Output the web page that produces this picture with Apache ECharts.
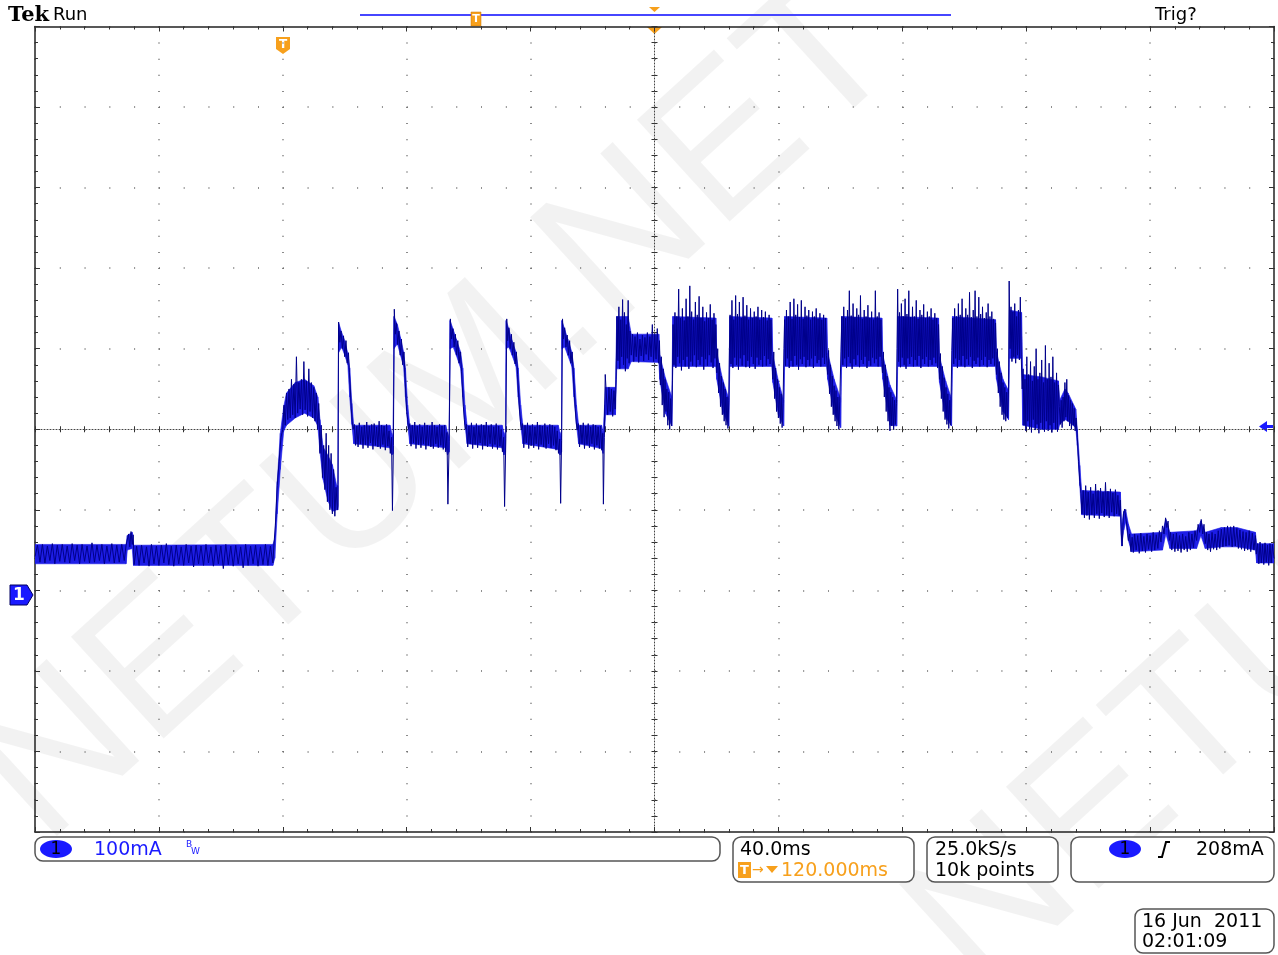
<!DOCTYPE html>
<html>
<head>
<meta charset="utf-8">
<title>Tek Run</title>
<script src="https://cdn.jsdelivr.net/npm/echarts@6/dist/echarts.min.js"></script>
<style>
html, body { margin: 0; padding: 0; background: #fff; }
#chart { width: 1278px; height: 955px; }
</style>
</head>
<body>
<div id="chart"></div>
<script>
// scope settings: 40 ms/div, 100 mA/div, time relative to trigger
var timeMin = -80, timeMax = 320, timeDiv = 40;
var currMin = -300, currMax = 700, currDiv = 100;

// readout texts
var chLabel = '1';
var voltsText = '100mA';
var timebaseText = '40.0ms';
var delayText = '120.000ms';
var rateText = '25.0kS/s';
var pointsText = '10k points';
var trigText = '208mA';
var dateText = '16 Jun  2011';
var clockText = '02:01:09';
var watermarkText = 'NETUM.NET';

// envelope of the noisy trace: [time ms, lower mA, upper mA]
var envelope = [
  [-80,33,57],[-50.6,33,57],[-50.2,50,68],[-48.6,52,72],[-48.2,31,56],[-3.2,31,57],
  [-2.6,40,64],[-1.8,95,135],[-0.8,150,195],[0.3,198,228],[1.2,205,245],[4,214,258],[7,220,262],[10,214,254],[11.3,204,240],[12,172,212],[13,138,178],[14.5,112,168],[16,98,156],[17.4,100,130],[17.8,100,130],
  [18.0,295,333],[19,302,320],[20,292,310],[21,280,294],[21.6,240,276],[22.3,206,232],[22.9,182,205],[34.6,177,205],[35.2,168,195],[35.6,170,190],
  [35.9,300,340],[37,306,330],[38,292,314],[39,278,296],[39.6,240,276],[40.3,206,230],[41,182,205],[52.6,177,205],[53.2,168,196],[53.7,172,190],
  [54.0,300,335],[55,302,324],[56,292,312],[57.4,276,296],[58.1,240,276],[58.8,206,230],[59.5,182,205],[70.8,177,205],[71.4,168,196],[71.9,172,190],
  [72.1,300,335],[73,302,324],[74,292,310],[75.3,278,296],[76,240,276],[76.8,206,230],[77.5,182,205],[88.9,175,205],[89.5,168,196],[90,172,188],
  [90.1,300,335],[91,302,324],[92,292,312],[93.3,278,296],[94,240,276],[94.8,206,230],[95.5,182,205],[102.9,176,205],[103.4,170,196],[103.9,200,230],
  [104.2,218,252],[107.4,218,252],[107.8,275,340],[111.5,275,340],[112.5,284,318],[121.4,283,318],
  [121.7,262,292],[123.5,220,264],[125.6,204,240],
  [125.9,278,340],[139.8,278,338],
  [140.1,262,295],[142,222,262],[144,204,238],
  [144.3,278,340],[157.9,278,338],
  [158.2,258,292],[160,218,260],[161.7,204,236],
  [162,278,340],[175.6,278,338],
  [175.9,262,295],[178,220,262],[180.1,202,238],
  [180.4,278,340],[193.4,278,338],
  [193.7,262,292],[196,205,255],[198.2,204,236],
  [198.5,278,340],[211.7,278,338],
  [212,258,290],[214,215,260],[215.9,204,238],
  [216.2,278,340],[230.1,278,336],
  [230.4,262,296],[232.5,222,262],[234.3,212,248],
  [234.6,288,348],[238.5,288,345],
  [238.9,205,268],[245,200,265],[250.4,200,260],
  [250.8,206,236],[252.5,212,250],[253.5,210,245],[256,202,225],
  [256.5,180,200],[257.3,130,155],[257.9,94,124],[270.4,92,122],
  [270.8,55,80],[271.5,75,98],[272.1,85,100],[273,62,82],[274,48,70],
  [284,50,72],[285.1,70,88],[286.4,52,72],[295,52,74],[296.4,68,86],[297.8,52,72],
  [303,54,78],[308,54,78],[314,50,72],[314.4,34,58],[320,34,58]
];

// the trace itself, [time ms, current mA]
var idleTrace = [
  [-80,42],[-79.2,56],[-78.4,35],[-77.6,57],[-76.8,34],[-76,55],[-75.2,37],[-74.4,58],[-73.6,33],[-72.8,56],
  [-72,36],[-71.2,57],[-70.4,35],[-69.6,55],[-68.8,34],[-68,58],[-67.2,37],[-66.4,56],[-65.6,33],[-64.8,57],
  [-64,36],[-63.2,55],[-62.4,34],[-61.6,59],[-60.8,35],[-60,56],[-59.2,37],[-58.4,57],[-57.6,33],[-56.8,55],
  [-56,36],[-55.2,58],[-54.4,34],[-53.6,56],[-52.8,35],[-52,57],[-51.2,37],[-50.6,56],[-50.2,55],[-49.8,70],
  [-49.4,54],[-49,73],[-48.6,57],[-48.3,69],[-48,32],[-47.2,55],[-46.4,31],[-45.6,56],[-44.8,34],[-44,54],
  [-43.2,30],[-42.4,57],[-41.6,33],[-40.8,55],[-40,31],[-39.2,56],[-38.4,34],[-37.6,58],[-36.8,32],[-36,55],
  [-35.2,30],[-34.4,56],[-33.6,33],[-32.8,54],[-32,31],[-31.2,57],[-30.4,34],[-29.6,55],[-28.8,29],[-28,56],
  [-27.2,33],[-26.4,55],[-25.6,31],[-24.8,57],[-24,34],[-23.2,54],[-22.4,30],[-21.6,56],[-20.8,33],[-20,55],
  [-19.2,27],[-18.4,57],[-17.6,32],[-16.8,55],[-16,30],[-15.2,56],[-14.4,33],[-13.6,54],[-12.8,28],[-12,57],
  [-11.2,31],[-10.4,55],[-9.6,33],[-8.8,56],[-8,30],[-7.2,54],[-6.4,32],[-5.6,57],[-4.8,31],[-4,55],
  [-3.2,34],[-2.8,60]
];
var pulseTrace = [
  [-2.4,80],[-1.8,130],[-1.2,160],[-0.6,190],[0,200],[0.4,230],[0.8,205],[1.2,245],[1.6,212],[2,250],
  [2.4,214],[2.8,262],[3.2,218],[3.6,256],[4,214],[4.4,290],[4.8,220],[5.2,258],[5.6,225],[6,262],
  [6.4,218],[6.8,284],[7.2,224],[7.6,260],[8,216],[8.4,275],[8.8,222],[9.2,258],[9.6,214],[10,252],
  [10.4,210],[10.8,245],[11.2,200],[11.6,232],[12,170],[12.4,205],[12.8,140],[13.2,180],[13.6,125],[14,195],
  [14.4,110],[14.8,180],[15.2,100],[15.6,170],[16,95],[16.4,150],[16.8,92],[17.2,128],[17.6,100],
  [17.8,105],[18,333],[18.4,308],[18.8,322],[19.2,300],[19.6,316],[20,290],[20.4,310],[20.8,282],[21.2,295],
  [21.5,270],[21.8,250],[22.1,226],[22.4,210],[22.7,200],[23.1,206],[23.5,180],[23.9,204],[24.3,178],[24.7,208],
  [25.1,182],[25.5,203],[25.9,176],[26.3,205],[26.7,181],[27.1,209],[27.5,177],[27.9,204],[28.3,183],[28.7,206],
  [29.1,175],[29.5,207],[29.9,180],[30.3,203],[30.7,178],[31.1,210],[31.5,176],[31.9,205],[32.3,181],[32.7,204],
  [33.1,174],[33.5,206],[33.9,179],[34.3,198],[34.7,170],[35.1,190],[35.4,99],[35.7,180],[36,349],
  [36.3,318],[36.7,332],[37.1,305],[37.5,322],[37.9,292],[38.3,312],[38.7,280],[39.1,296],[39.4,270],[39.7,245],
  [40,222],[40.3,212],[40.6,200],[41,207],[41.4,179],[41.8,205],[42.2,183],[42.6,209],[43,176],[43.4,204],
  [43.8,181],[44.2,206],[44.6,177],[45,203],[45.4,182],[45.8,208],[46.2,175],[46.6,205],[47,180],[47.4,204],
  [47.8,178],[48.2,209],[48.6,176],[49,205],[49.4,182],[49.8,203],[50.2,177],[50.6,206],[51,180],[51.4,204],
  [51.8,175],[52.2,205],[52.6,172],[53,196],[53.3,107],[53.7,185],[54.1,337],
  [54.5,312],[54.9,325],[55.3,302],[55.7,318],[56.1,292],[56.5,310],[56.9,282],[57.3,296],[57.7,272],[58,250],
  [58.3,228],[58.6,212],[58.9,200],[59.3,206],[59.7,178],[60.1,204],[60.5,182],[60.9,208],[61.3,176],[61.7,203],
  [62.1,181],[62.5,207],[62.9,177],[63.3,204],[63.7,183],[64.1,206],[64.5,175],[64.9,205],[65.3,180],[65.7,209],
  [66.1,178],[66.5,204],[66.9,182],[67.3,206],[67.7,176],[68.1,203],[68.5,181],[68.9,207],[69.3,175],[69.7,204],
  [70.1,179],[70.5,200],[70.9,172],[71.3,190],[71.6,104],[72,188],[72.3,337],
  [72.6,310],[73,326],[73.4,300],[73.8,318],[74.2,292],[74.6,308],[75,281],[75.4,296],[75.8,268],[76.1,245],
  [76.4,225],[76.7,210],[77,199],[77.4,207],[77.8,177],[78.2,205],[78.6,183],[79,208],[79.4,176],[79.8,204],
  [80.2,180],[80.6,206],[81,177],[81.4,203],[81.8,182],[82.2,209],[82.6,175],[83,205],[83.4,181],[83.8,204],
  [84.2,178],[84.6,207],[85,176],[85.4,203],[85.8,182],[86.2,206],[86.6,177],[87,205],[87.4,180],[87.8,203],
  [88.2,174],[88.6,198],[89,170],[89.4,188],[89.7,108],[90,186],[90.3,337],
  [90.6,312],[91,326],[91.4,302],[91.8,317],[92.2,292],[92.6,310],[93,282],[93.4,296],[93.8,268],[94.1,246],
  [94.4,226],[94.7,210],[95,199],[95.4,207],[95.8,178],[96.2,205],[96.6,182],[97,208],[97.4,176],[97.8,204],
  [98.2,181],[98.6,207],[99,177],[99.4,203],[99.8,182],[100.2,206],[100.6,175],[101,205],[101.4,180],[101.8,203],
  [102.2,176],[102.6,204],[103,174],[103.3,195],[103.5,107],[103.8,190],[104.1,268],
  [104.5,240],[104.9,218],[105.3,252],[105.7,222],[106.1,250],[106.5,216],[106.9,248],[107.3,225],[107.6,262]
];
var burstTrace = [
  [107.9,340],[108.2,285],[108.5,352],[108.8,275],[109.1,336],[109.4,290],[109.7,361],[110,280],[110.3,345],[110.6,272],
  [110.9,330],[111.2,288],[111.5,360],[111.8,282],[112.1,322],[112.5,292],[112.9,318],[113.3,284],[113.7,315],[114.1,290],
  [114.5,320],[114.9,283],[115.3,312],[115.7,291],[116.1,317],[116.5,285],[116.9,314],[117.3,293],[117.7,320],[118.1,286],
  [118.5,315],[118.9,290],[119.3,330],[119.7,284],[120.1,318],[120.5,287],[120.9,325],[121.3,282],[121.6,310],
  [121.9,255],[122.2,290],[122.5,230],[122.8,275],[123.1,215],[123.4,262],[123.7,222],[124,250],[124.3,205],[124.6,246],
  [124.9,200],[125.2,238],[125.5,204],[125.8,260],
  [126,330],[126.3,280],[126.6,345],[126.9,276],[127.2,340],[127.5,290],[127.8,374],[128.1,282],[128.4,338],[128.7,273],
  [129,350],[129.3,286],[129.6,335],[129.9,278],[130.2,362],[130.5,290],[130.8,340],[131.1,275],[131.4,378],[131.7,284],
  [132,346],[132.3,279],[132.6,336],[132.9,292],[133.2,358],[133.5,277],[133.8,342],[134.1,286],[134.4,365],[134.7,280],
  [135,338],[135.3,290],[135.6,352],[135.9,274],[136.2,334],[136.5,287],[136.8,345],[137.1,279],[137.4,338],[137.7,292],
  [138,355],[138.3,283],[138.6,336],[138.9,276],[139.2,344],[139.5,288],[139.8,330],
  [140.1,270],[140.4,300],[140.7,245],[141,282],[141.3,228],[141.6,266],[141.9,218],[142.2,258],[142.5,210],[142.8,250],
  [143.1,205],[143.4,240],[143.7,201],[144,236],[144.2,300],
  [144.4,342],[144.7,281],[145,360],[145.3,276],[145.6,336],[145.9,289],[146.2,366],[146.5,280],[146.8,343],[147.1,274],
  [147.4,358],[147.7,288],[148,338],[148.3,279],[148.6,364],[148.9,292],[149.2,341],[149.5,277],[149.8,354],[150.1,285],
  [150.4,336],[150.7,276],[151,350],[151.3,290],[151.6,338],[151.9,281],[152.2,346],[152.5,275],[152.8,340],[153.1,289],
  [153.4,352],[153.7,280],[154,336],[154.3,286],[154.6,348],[154.9,278],[155.2,339],[155.5,291],[155.8,346],[156.1,279],
  [156.4,335],[156.7,287],[157,342],[157.3,281],[157.6,336],[157.9,290],
  [158.2,262],[158.5,296],[158.8,238],[159.1,276],[159.4,222],[159.7,262],[160,214],[160.3,252],[160.6,207],[160.9,244],
  [161.2,202],[161.5,232],[161.8,300],
  [162,336],[162.3,279],[162.6,348],[162.9,288],[163.2,340],[163.5,276],[163.8,358],[164.1,285],[164.4,337],[164.7,278],
  [165,362],[165.3,291],[165.6,342],[165.9,280],[166.2,355],[166.5,274],[166.8,339],[167.1,287],[167.4,360],[167.7,281],
  [168,337],[168.3,290],[168.6,352],[168.9,277],[169.2,341],[169.5,286],[169.8,348],[170.1,279],[170.4,336],[170.7,288],
  [171,346],[171.3,276],[171.6,340],[171.9,291],[172.2,350],[172.5,282],[172.8,337],[173.1,286],[173.4,344],[173.7,278],
  [174,336],[174.3,289],[174.6,342],[174.9,281],[175.2,338],[175.5,292],
  [175.9,268],[176.2,298],[176.5,244],[176.8,280],[177.1,228],[177.4,266],[177.7,218],[178,254],[178.3,210],[178.6,248],
  [178.9,204],[179.2,240],[179.5,200],[179.8,234],[180.2,296],
  [180.5,340],[180.8,280],[181.1,352],[181.4,288],[181.7,338],[182,276],[182.3,348],[182.6,290],[182.9,372],[183.2,282],
  [183.5,341],[183.8,275],[184.1,356],[184.4,287],[184.7,339],[185,280],[185.3,350],[185.6,292],[185.9,342],[186.2,277],
  [186.5,366],[186.8,286],[187.1,337],[187.4,281],[187.7,348],[188,290],[188.3,340],[188.6,276],[188.9,354],[189.2,285],
  [189.5,338],[189.8,279],[190.1,346],[190.4,289],[190.7,336],[191,282],[191.3,372],[191.6,287],[191.9,340],[192.2,278],
  [192.5,345],[192.8,290],[193.1,336],[193.4,284],
  [193.6,270],[193.9,296],[194.2,240],[194.5,280],[194.8,222],[195.1,266],[195.4,210],[195.7,252],[196,198],[196.3,246],
  [196.6,204],[196.9,240],[197.2,200],[197.5,236],[197.8,206],[198.1,232],[198.3,300],
  [198.5,374],[198.8,284],[199.1,345],[199.4,277],[199.7,356],[200,289],[200.3,340],[200.6,280],[200.9,362],[201.2,275],
  [201.5,343],[201.8,288],[202.1,372],[202.4,281],[202.7,339],[203,290],[203.3,352],[203.6,278],[203.9,340],[204.2,286],
  [204.5,360],[204.8,279],[205.1,337],[205.4,291],[205.7,348],[206,276],[206.3,342],[206.6,287],[206.9,355],[207.2,281],
  [207.5,338],[207.8,290],[208.1,346],[208.4,278],[208.7,340],[209,286],[209.3,350],[209.6,280],[209.9,336],[210.2,289],
  [210.5,344],[210.8,282],[211.1,338],[211.4,276],[211.7,330],
  [212,262],[212.3,294],[212.6,238],[212.9,278],[213.2,222],[213.5,264],[213.8,212],[214.1,252],[214.4,206],[214.7,244],
  [215,201],[215.3,236],[215.6,205],[216,298],
  [216.3,338],[216.6,281],[216.9,350],[217.2,288],[217.5,340],[217.8,276],[218.1,356],[218.4,286],[218.7,342],[219,279],
  [219.3,362],[219.6,291],[219.9,338],[220.2,277],[220.5,350],[220.8,287],[221.1,342],[221.4,280],[221.7,370],[222,290],
  [222.3,339],[222.6,276],[222.9,348],[223.2,285],[223.5,372],[223.8,281],[224.1,340],[224.4,289],[224.7,364],[225,278],
  [225.3,343],[225.6,286],[225.9,352],[226.2,280],[226.5,338],[226.8,290],[227.1,345],[227.4,277],[227.7,356],[228,286],
  [228.3,340],[228.6,281],[228.9,346],[229.2,288],[229.5,337],[229.8,279],[230.1,332],
  [230.4,268],[230.7,300],[231,245],[231.3,284],[231.6,228],[231.9,270],[232.2,218],[232.5,258],[232.8,212],[233.1,252],
  [233.4,210],[233.7,246],[234,214],[234.3,250],
  [234.5,384],[234.8,300],[235.1,352],[235.4,284],[235.7,346],[236,290],[236.3,356],[236.6,282],[236.9,340],[237.2,292],
  [237.5,348],[237.8,286],[238.1,364],[238.4,290],[238.7,250]
];
var tailTrace = [
  [239,275],[239.3,205],[239.6,262],[239.9,198],[240.2,290],[240.5,210],[240.8,268],[241.1,200],[241.4,284],[241.7,196],
  [242,260],[242.3,212],[242.6,278],[242.9,199],[243.2,300],[243.5,206],[243.8,262],[244.1,195],[244.4,270],[244.7,208],
  [245,286],[245.3,200],[245.6,258],[245.9,197],[246.2,304],[246.5,210],[246.8,262],[247.1,198],[247.4,282],[247.7,205],
  [248,265],[248.3,196],[248.6,290],[248.9,208],[249.2,258],[249.5,200],[249.8,270],[250.1,197],[250.4,255],
  [250.7,228],[251,206],[251.3,236],[251.6,202],[251.9,240],[252.2,210],[252.5,258],[252.8,215],[253.1,262],[253.4,210],
  [253.7,242],[254,204],[254.3,236],[254.6,200],[254.9,232],[255.2,205],[255.5,226],[255.8,198],[256.1,214],
  [256.5,190],[256.9,160],[257.3,135],[257.7,120],
  [258,95],[258.4,124],[258.8,90],[259.2,130],[259.6,93],[260,122],[260.4,88],[260.8,128],[261.2,94],[261.6,120],
  [262,90],[262.4,132],[262.8,95],[263.2,124],[263.6,89],[264,127],[264.4,96],[264.8,122],[265.2,91],[265.6,134],
  [266,94],[266.4,123],[266.8,90],[267.2,126],[267.6,97],[268,121],[268.4,92],[268.8,125],[269.2,95],[269.6,118],
  [270,93],[270.4,112],
  [270.7,70],[271,55],[271.4,95],[271.8,101],[272.2,88],[272.6,78],[273,62],[273.4,70],[273.8,48],[274.2,66],
  [274.6,47],[275,70],[275.5,50],[276,68],[276.5,46],[277,71],[277.5,49],[278,67],[278.5,47],[279,70],
  [279.5,51],[280,68],[280.5,48],[281,72],[281.5,50],[282,69],[282.5,52],[283,74],[283.5,60],[284,80],
  [284.5,70],[285,90],[285.4,78],[285.8,86],[286.2,62],[286.6,72],[287,50],[287.5,70],[288,48],[288.5,71],
  [289,49],[289.5,68],[290,47],[290.5,70],[291,50],[291.5,67],[292,48],[292.5,72],[293,50],[293.5,70],
  [294,53],[294.5,74],[295,62],[295.5,82],[296,72],[296.5,88],[297,70],[297.4,82],[297.8,58],[298.2,72],
  [298.6,50],[299,70],[299.5,48],[300,72],[300.5,51],[301,70],[301.5,50],[302,74],[302.5,52],[303,76],
  [303.5,54],[304,78],[304.5,55],[305,80],[305.5,56],[306,79],[306.5,54],[307,80],[307.5,55],[308,77],
  [308.5,52],[309,75],[309.5,51],[310,73],[310.5,49],[311,72],[311.5,50],[312,74],[312.5,48],[313,71],
  [313.5,50],[314,68],[314.3,45],[314.7,58],[315.1,33],[315.5,60],[315.9,34],[316.3,57],[316.7,32],[317.1,59],
  [317.5,35],[317.9,56],[318.3,31],[318.7,58],[319.1,34],[319.5,57],[320,40]
];

var traceData = idleTrace.concat(pulseTrace, burstTrace, tailTrace);

var traceBlue = '#1d1de6';
var traceNavy = '#00008a';
var orange = '#f7a01c';
var chBlue = '#1a1aff';
var readFont = '"DejaVu Sans", sans-serif';
var markFont = '200px "Liberation Sans"';
var markFill = 'rgba(0,0,0,0.05)';

function timeAxis(position, offset, center) {
  return {
    type: 'value', min: timeMin, max: timeMax, interval: timeDiv,
    position: position, offset: offset,
    axisLine: { show: !(center && position === 'top'), onZero: false,
      lineStyle: { color: center ? '#444' : '#222', width: center ? 1 : 1.5, type: center ? [1, 2] : 'solid' } },
    axisTick: { show: true, inside: true, length: center ? 3 : 5, lineStyle: { color: '#333' } },
    minorTick: { show: true, splitNumber: 5, length: 3, lineStyle: { color: '#333' } },
    axisLabel: { show: false },
    splitLine: { show: position === 'bottom' && !center,
      lineStyle: { color: '#666', width: 1.5, type: [1, 15.1] } }
  };
}
function currAxis(position, offset, center) {
  return {
    type: 'value', min: currMin, max: currMax, interval: currDiv,
    position: position, offset: offset,
    axisLine: { show: !(center && position === 'right'), onZero: false,
      lineStyle: { color: center ? '#444' : '#222', width: center ? 1 : 1.5, type: center ? [1, 2] : 'solid' } },
    axisTick: { show: true, inside: true, length: center ? 3 : 5, lineStyle: { color: '#333' } },
    minorTick: { show: true, splitNumber: 5, length: 3, lineStyle: { color: '#333' } },
    axisLabel: { show: false },
    splitLine: { show: position === 'left' && !center,
      lineStyle: { color: '#666', width: 1.5, type: [1, 23.78] } }
  };
}

var chart = echarts.init(document.getElementById('chart'), null, { renderer: 'canvas' });

chart.setOption({
  animation: false,
  backgroundColor: '#fff',
  grid: { left: 35, top: 26.5, width: 1239, height: 805.5 },
  xAxis: [
    timeAxis('bottom', 0, false),
    timeAxis('top', 0, false),
    timeAxis('bottom', -402.75, true),
    timeAxis('top', -402.75, true)
  ],
  yAxis: [
    currAxis('left', 0, false),
    currAxis('right', 0, false),
    currAxis('left', -619.5, true),
    currAxis('right', -619.5, true)
  ],
  graphic: [
    // watermark
    { type: 'text', x: 75, y: 880, rotation: 0.74, z: -10, silent: true,
      style: { text: watermarkText, fill: markFill, font: markFont, textAlign: 'left', textVerticalAlign: 'bottom' } },
    { type: 'text', x: 1010, y: 1030, rotation: 0.74, z: -10, silent: true,
      style: { text: watermarkText, fill: markFill, font: markFont, textAlign: 'left', textVerticalAlign: 'bottom' } },
    // header
    { type: 'text', x: 8, y: 16, style: { text: 'Tek', fill: '#000', font: 'bold 21px "DejaVu Serif"', textVerticalAlign: 'middle' } },
    { type: 'text', x: 53, y: 15, style: { text: 'Run', fill: '#000', font: '18px "DejaVu Sans"', textVerticalAlign: 'middle' } },
    { type: 'text', x: 1155, y: 15, style: { text: 'Trig?', fill: '#000', font: '18px "DejaVu Sans"', textVerticalAlign: 'middle' } },
    // record view bar
    { type: 'line', shape: { x1: 360, y1: 15, x2: 951, y2: 15 }, style: { stroke: '#4646ff', lineWidth: 2 } },
    { type: 'rect', shape: { x: 471, y: 12, width: 10, height: 14 }, style: { fill: orange, stroke: '#c87400', lineWidth: 0.5 } },
    { type: 'text', x: 476, y: 19.5, style: { text: 'T', fill: '#fff', font: 'bold 11px "DejaVu Sans"', textAlign: 'center', textVerticalAlign: 'middle' } },
    { type: 'polygon', shape: { points: [[649, 7], [660, 7], [654.5, 12]] }, style: { fill: orange } },
    { type: 'polygon', shape: { points: [[647, 27], [662, 27], [654.5, 34]] }, style: { fill: orange } },
    // trigger position marker
    { type: 'polygon', shape: { points: [[276, 37], [290, 37], [290, 49], [283, 54], [276, 49]] }, style: { fill: orange } },
    { type: 'text', x: 283, y: 44.5, style: { text: 'T', fill: '#fff', font: 'bold 12px "DejaVu Sans"', textAlign: 'center', textVerticalAlign: 'middle' } },
    // channel 1 ground marker
    { type: 'polygon', shape: { points: [[10, 585], [27, 585], [33, 595], [27, 605], [10, 605]] }, style: { fill: chBlue, stroke: '#000060', lineWidth: 1 } },
    { type: 'text', x: 19, y: 595.5, style: { text: chLabel, fill: '#fff', font: 'bold 17px "DejaVu Sans"', textAlign: 'center', textVerticalAlign: 'middle' } },
    // trigger level arrow
    { type: 'polygon', shape: { points: [[1259, 426.5], [1267, 421], [1267, 425], [1273, 425], [1273, 428], [1267, 428], [1267, 432]] }, style: { fill: chBlue } },
    // readout boxes
    { type: 'rect', shape: { x: 35, y: 837, width: 685, height: 24, r: 8 }, style: { fill: '#fff', stroke: '#555', lineWidth: 1.5 } },
    { type: 'ellipse', shape: { cx: 56, cy: 849, rx: 16, ry: 9 }, style: { fill: chBlue } },
    { type: 'text', x: 56, y: 849.5, style: { text: chLabel, fill: '#000', font: '17px "DejaVu Sans"', textAlign: 'center', textVerticalAlign: 'middle' } },
    { type: 'text', x: 94, y: 850, style: { text: voltsText, fill: chBlue, font: '19px ' + readFont, textVerticalAlign: 'middle' } },
    { type: 'text', x: 186, y: 845, style: { text: 'B', fill: chBlue, font: '9px "DejaVu Sans"', textVerticalAlign: 'middle' } },
    { type: 'text', x: 191, y: 852, style: { text: 'W', fill: chBlue, font: '9px "DejaVu Sans"', textVerticalAlign: 'middle' } },

    { type: 'rect', shape: { x: 733, y: 837, width: 181, height: 45, r: 8 }, style: { fill: '#fff', stroke: '#555', lineWidth: 1.5 } },
    { type: 'text', x: 740, y: 850, style: { text: timebaseText, fill: '#000', font: '19px ' + readFont, textVerticalAlign: 'middle' } },
    { type: 'rect', shape: { x: 738, y: 862, width: 13, height: 16 }, style: { fill: orange } },
    { type: 'text', x: 744.5, y: 870.5, style: { text: 'T', fill: '#fff', font: 'bold 13px "DejaVu Sans"', textAlign: 'center', textVerticalAlign: 'middle' } },
    { type: 'text', x: 752, y: 870, style: { text: '\u2192', fill: orange, font: '14px "DejaVu Sans"', textVerticalAlign: 'middle' } },
    { type: 'polygon', shape: { points: [[766, 866], [778, 866], [772, 873]] }, style: { fill: orange } },
    { type: 'text', x: 781, y: 871, style: { text: delayText, fill: orange, font: '19px ' + readFont, textVerticalAlign: 'middle' } },

    { type: 'rect', shape: { x: 927, y: 837, width: 131, height: 45, r: 8 }, style: { fill: '#fff', stroke: '#555', lineWidth: 1.5 } },
    { type: 'text', x: 935, y: 850, style: { text: rateText, fill: '#000', font: '19px ' + readFont, textVerticalAlign: 'middle' } },
    { type: 'text', x: 935, y: 871, style: { text: pointsText, fill: '#000', font: '19px ' + readFont, textVerticalAlign: 'middle' } },

    { type: 'rect', shape: { x: 1071, y: 837, width: 203, height: 45, r: 8 }, style: { fill: '#fff', stroke: '#555', lineWidth: 1.5 } },
    { type: 'ellipse', shape: { cx: 1125, cy: 849, rx: 16, ry: 9 }, style: { fill: chBlue } },
    { type: 'text', x: 1125, y: 849.5, style: { text: chLabel, fill: '#000', font: '17px "DejaVu Sans"', textAlign: 'center', textVerticalAlign: 'middle' } },
    { type: 'polyline', shape: { points: [[1158, 857], [1162, 857], [1166, 842], [1170, 842]] }, style: { stroke: '#000', lineWidth: 2, fill: null } },
    { type: 'text', x: 1196, y: 850, style: { text: trigText, fill: '#000', font: '19px ' + readFont, textVerticalAlign: 'middle' } },

    { type: 'rect', shape: { x: 1135, y: 909, width: 139, height: 44, r: 8 }, style: { fill: '#fff', stroke: '#555', lineWidth: 1.5 } },
    { type: 'text', x: 1142, y: 922, style: { text: dateText, fill: '#000', font: '19px ' + readFont, textVerticalAlign: 'middle' } },
    { type: 'text', x: 1142, y: 942, style: { text: clockText, fill: '#000', font: '19px ' + readFont, textVerticalAlign: 'middle' } }
  ],
  series: [
    {
      name: 'band',
      type: 'custom',
      xAxisIndex: 0, yAxisIndex: 0,
      clip: true,
      silent: true,
      encode: { x: 0, y: [1, 2] },
      data: envelope,
      renderItem: function (params, api) {
        var i = params.dataIndex;
        if (i >= envelope.length - 1) return null;
        var a = envelope[i], b = envelope[i + 1];
        return {
          type: 'polygon',
          shape: { points: [api.coord([a[0], a[1]]), api.coord([b[0], b[1]]), api.coord([b[0], b[2]]), api.coord([a[0], a[2]])] },
          style: { fill: traceBlue, stroke: traceBlue, lineWidth: 0.6 }
        };
      }
    },
    {
      name: 'CH1',
      type: 'line',
      xAxisIndex: 0, yAxisIndex: 0,
      data: traceData,
      showSymbol: false,
      symbol: 'none',
      sampling: null,
      clip: true,
      lineStyle: { color: traceNavy, width: 1 },
      z: 3
    }
  ]
});
</script>
</body>
</html>
